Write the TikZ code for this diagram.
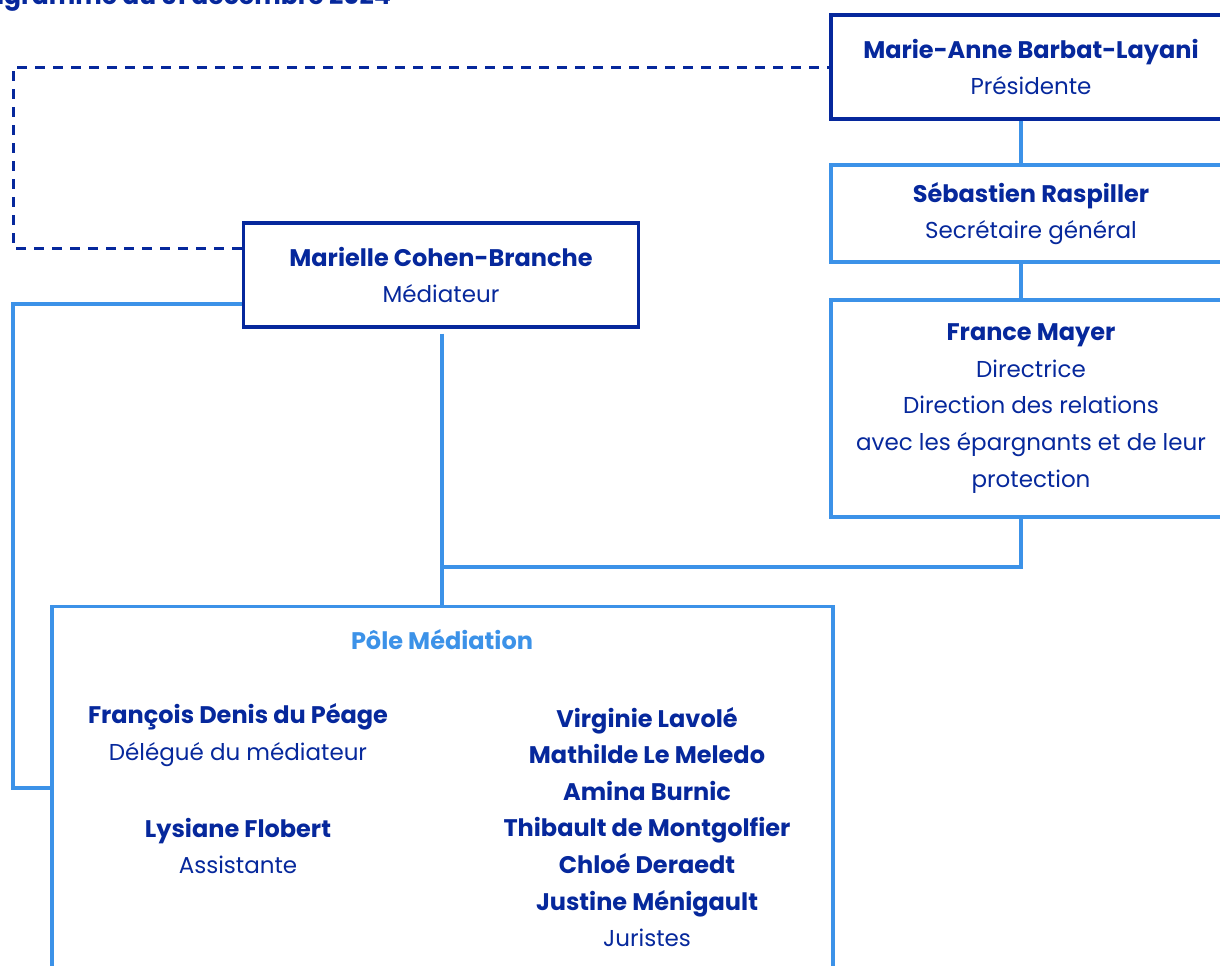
\documentclass[tikz,border=0pt]{standalone}
\usepackage{fontspec}
\setmainfont{Poppins}
\usepackage{xcolor}
\definecolor{navy-blue}{RGB}{6,40,156}
\definecolor{sky-blue}{RGB}{60,146,232}
\usetikzlibrary{positioning,calc}
\newcommand{\nm}[1]{{\bfseries\fontsize{12}{18.3}\selectfont #1}}

\begin{document}
\begin{tikzpicture}[
	x=0.5pt, y=-0.5pt,
	every node/.style={text=navy-blue, font=\fontsize{11.5}{18.3}\selectfont},
	darkbox/.style={draw=navy-blue, line width=1.6pt, align=center, inner sep=0pt},
	lightbox/.style={draw=sky-blue, line width=1.6pt, align=center, inner sep=0pt},
	link/.style={draw=sky-blue, line width=1.6pt},
	dashlink/.style={draw=navy-blue, line width=1.5pt, dash pattern=on 5pt off 4pt},
	]
	\useasboundingbox (0,0) rectangle (1220,965);

	% title, cut by the page edge
	\node[font=\bfseries\fontsize{12.5}{15}\selectfont, anchor=base east] (title) at (398,4) {Organigramme au 31 décembre 2024};

	% right column
	\node[darkbox, minimum width=200pt, minimum height=52pt] (pres) at (1031,67)
		{\nm{Marie-Anne Barbat-Layani}\\Présidente};
	\node[lightbox, minimum width=200pt, minimum height=48.5pt] (sec) at (1031,213.5)
		{\nm{Sébastien Raspiller}\\Secrétaire général};
	\node[lightbox, minimum width=200pt, minimum height=108.5pt] (mayer) at (1031,408.5)
		{\nm{France Mayer}\\Directrice\\Direction des relations\\avec les épargnants et de leur\\protection};

	% mediator
	\node[darkbox, minimum width=197.5pt, minimum height=52pt] (med) at (441,275)
		{\nm{Marielle Cohen-Branche}\\Médiateur};

	% pole
	\node[lightbox, minimum width=390.5pt, minimum height=210pt, anchor=north] (pole) at (442.5,605) {};
	\node[font=\bfseries\fontsize{12}{18.3}\selectfont, text=sky-blue] (poletitle) at (442,640) {Pôle Médiation};
	\node[align=center] (deleg) at (238,735) {\nm{François Denis du Péage}\\Délégué du médiateur};
	\node[align=center] (assist) at (238,846) {\nm{Lysiane Flobert}\\Assistante};
	\node[align=center] (jur) at (647,827)
		{\nm{Virginie Lavolé}\\\nm{Mathilde Le Meledo}\\\nm{Amina Burnic}\\\nm{Thibault de Montgolfier}\\\nm{Chloé Deraedt}\\\nm{Justine Ménigault}\\Juristes};

	\coordinate (spine) at (1021,0);
	\coordinate (join) at (442,567);
	\coordinate (railtop) at (13,0);
	\coordinate (raillow) at (13,788);

	\draw[link] (pres.south -| spine) -- (sec.north -| spine);
	\draw[link] (sec.south -| spine) -- (mayer.north -| spine);
	\draw[link] (mayer.south -| spine) |- (join);
	\draw[link] ([yshift=-2.5pt]med.south -| join) -- (join |- pole.north);
	\draw[link] ([yshift=-14.5pt]med.west) -| (raillow) -- (pole.west |- raillow);
	\draw[dashlink] ([yshift=13.5pt]med.west) -| (railtop |- pres.west) -- (pres.west);
\end{tikzpicture}
\end{document}
